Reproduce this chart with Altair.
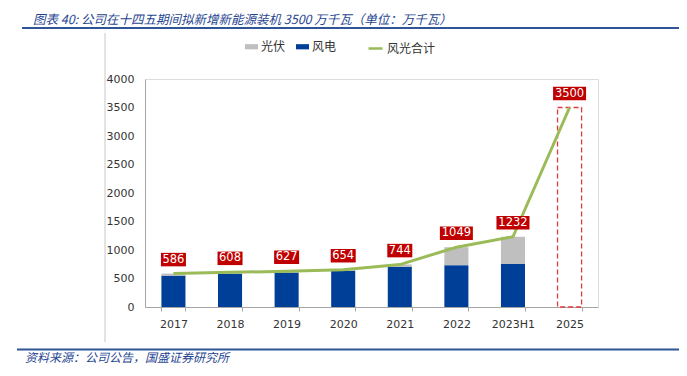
import altair as alt
import pandas as pd

years = ["2017", "2018", "2019", "2020", "2021", "2022", "2023H1", "2025"]
bar_years = ["2017", "2018", "2019", "2020", "2021", "2022", "2023H1"]
wind = [550, 580, 605, 634, 704, 734, 757]
solar = [36, 28, 22, 20, 40, 315, 475]
totals = [586, 608, 627, 654, 744, 1049, 1232, 3500]
target_year = ["2025"]
target_value = [3500]
series_names = ["光伏", "风电"]
line_name = "风光合计"
title_text = "图表 40: 公司在十四五期间拟新增新能源装机 3500 万千瓦（单位：万千瓦）"
source_text = "资料来源：公司公告，国盛证券研究所"

CJK = "Noto Sans CJK SC"
NUM = "DejaVu Sans"

bars_df = pd.DataFrame({
    "year": bar_years * 2,
    "series": ["风电"] * len(bar_years) + ["光伏"] * len(bar_years),
    "value": wind + solar,
    "order": [0] * len(bar_years) + [1] * len(bar_years),
})
line_df = pd.DataFrame({
    "year": years,
    "total": totals,
    "name": [line_name] * len(years),
    "label": [str(v) for v in totals],
})
target_df = pd.DataFrame({"year": target_year, "value": target_value})
one = pd.DataFrame({"a": [0]})

W, H = 453, 228

x_enc = alt.X(
    "year:N",
    scale=alt.Scale(domain=years, paddingInner=0.575, paddingOuter=0.29),
    axis=alt.Axis(title=None, labelAngle=0, tickBand="extent", tickSize=4,
                  tickColor="#A6A6A6", domainColor="#A6A6A6", labelPadding=7,
                  labelFont=NUM, labelFontSize=11, labelColor="#333333"),
)
y_axis = alt.Axis(title=None, values=list(range(0, 4001, 500)), ticks=False,
                  grid=False, domainColor="#A6A6A6", labelPadding=11, format="d",
                  labelFont=NUM, labelFontSize=11, labelColor="#333333")
y_scale = alt.Scale(domain=[0, 4000], nice=False)

bars = alt.Chart(bars_df).mark_bar().encode(
    x=x_enc,
    y=alt.Y("value:Q", stack="zero", scale=y_scale, axis=y_axis),
    color=alt.Color("series:N",
                    scale=alt.Scale(domain=series_names, range=["#BFBFBF", "#003F98"]),
                    legend=alt.Legend(title=None, orient="none", legendX=100, legendY=-39,
                                      direction="horizontal",
                                      symbolType="M-1,-0.4L1,-0.4L1,0.4L-1,0.4Z",
                                      symbolSize=169, symbolStrokeWidth=0,
                                      labelFont=CJK, labelFontSize=12, labelColor="#333333",
                                      labelOffset=3, columnPadding=10)),
    order=alt.Order("order:Q"),
)

target = alt.Chart(target_df).mark_bar(
    fill="white", fillOpacity=0, stroke="#E0393E", strokeWidth=1.3, strokeDash=[5, 3]
).encode(
    x=x_enc,
    y=alt.Y("value:Q", scale=y_scale, axis=y_axis),
)

line = alt.Chart(line_df).mark_line(strokeWidth=3).encode(
    x=x_enc,
    y=alt.Y("total:Q", scale=y_scale, axis=y_axis),
    stroke=alt.Stroke("name:N",
                      scale=alt.Scale(domain=[line_name], range=["#9BBB59"]),
                      legend=alt.Legend(title=None, orient="none", legendX=222, legendY=-39,
                                        symbolType="stroke", symbolSize=196,
                                        symbolStrokeWidth=2.5,
                                        labelFont=CJK, labelFontSize=12, labelColor="#333333",
                                        labelOffset=3)),
)

box3 = alt.Chart(line_df).transform_filter("length(datum.label) <= 3").mark_point(
    shape="M-1,-0.54L1,-0.54L1,0.54L-1,0.54Z", size=625, filled=True,
    color="#C00000", opacity=1, yOffset=-14
).encode(x=x_enc, y=alt.Y("total:Q", scale=y_scale, axis=y_axis))

box4 = alt.Chart(line_df).transform_filter("length(datum.label) > 3").mark_point(
    shape="M-1,-0.41L1,-0.41L1,0.41L-1,0.41Z", size=1089, filled=True,
    color="#C00000", opacity=1, yOffset=-14
).encode(x=x_enc, y=alt.Y("total:Q", scale=y_scale, axis=y_axis))

labels = alt.Chart(line_df).mark_text(
    color="white", font=NUM, fontSize=11.5, baseline="middle", yOffset=-14
).encode(x=x_enc, y=alt.Y("total:Q", scale=y_scale, axis=y_axis), text="label:N")

title = alt.Chart(one).mark_text(
    text=title_text, align="left", baseline="middle", font=CJK, fontSize=12.5,
    fontStyle="italic", color="#1F4591"
).encode(x=alt.value(-112), y=alt.value(-59))

top_rule = alt.Chart(one).mark_rule(color="#2F5597", strokeWidth=2).encode(
    x=alt.value(-123), x2=alt.value(534), y=alt.value(-51))
bottom_rule = alt.Chart(one).mark_rule(color="#2F5597", strokeWidth=2).encode(
    x=alt.value(-128), x2=alt.value(534), y=alt.value(270.5))
frame_rule = alt.Chart(one).mark_rule(color="#C8C8C8", strokeWidth=1).encode(
    x=alt.value(-40), y=alt.value(-46), y2=alt.value(263))

source = alt.Chart(one).mark_text(
    text=source_text, align="left", baseline="middle", font=CJK, fontSize=12,
    fontStyle="italic", color="#1F4591"
).encode(x=alt.value(-120), y=alt.value(279))

chart = alt.layer(
    frame_rule, top_rule, bottom_rule, title, source,
    bars, target, line, box3, box4, labels
).resolve_legend(color="independent", stroke="independent").properties(
    width=W, height=H,
    autosize=alt.AutoSizeParams(type="none"),
    padding={"left": 137, "top": 71, "right": 81, "bottom": 60},
).configure_view(stroke=None).configure(background="white")

chart.save("out.html", embed_options={"renderer": "svg", "actions": False})
